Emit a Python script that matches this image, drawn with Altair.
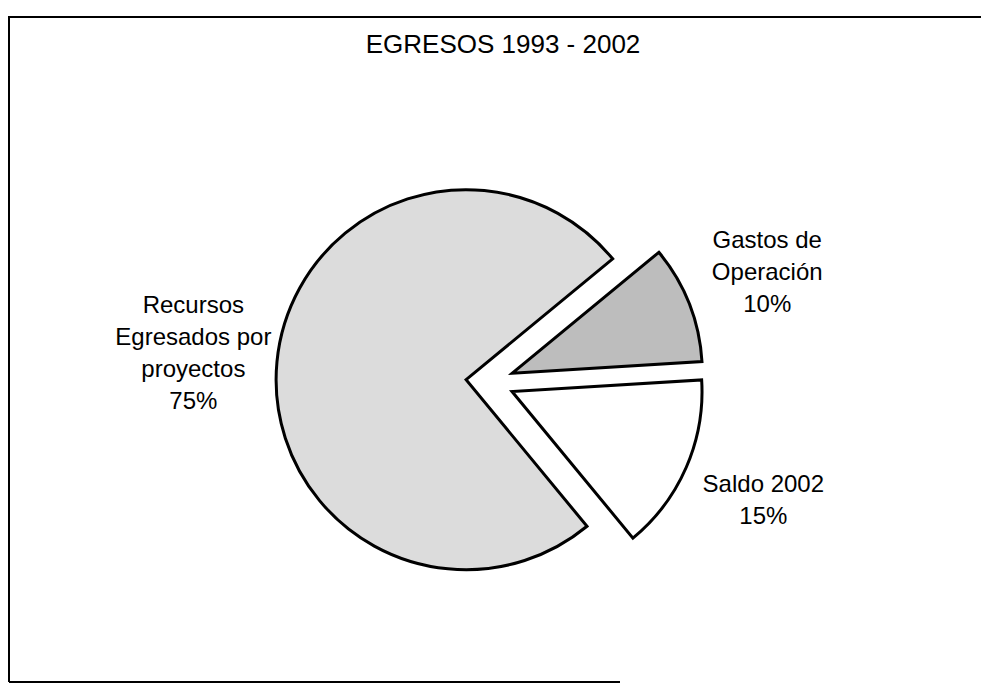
import math
import altair as alt
import pandas as pd

# ---- data ----
categories = ["Gastos de Operación", "Saldo 2002", "Recursos Egresados por proyectos"]
label_text = ["Gastos de\nOperación", "Saldo 2002", "Recursos\nEgresados por\nproyectos"]
values = [10, 15, 75]
title_text = "EGRESOS 1993 - 2002"

# ---- style ----
fills = ["#bdbdbd", "#ffffff", "#dcdcdc"]
START = 0.881          # start angle of first slice (radians, clockwise from 12 o'clock)
CX, CY = 482, 374      # pie centre in plot coordinates
R = 190                # pie radius
EXPLODE = 24           # slice explosion distance
LABEL_R = 298          # label distance from the centre
LINE_H = 32
W, H = 973, 676
FONT = "Liberation Sans"

df = pd.DataFrame({"cat": categories, "lbl": label_text, "value": values,
                   "order": list(range(len(values)))})

base = (
    alt.Chart(df)
    .transform_window(cum="sum(value)", sort=[alt.SortField("order")], frame=[None, 0])
    .transform_joinaggregate(total="sum(value)")
    .transform_calculate(
        t0="100*(datum.cum - datum.value)/datum.total",
        t1="100*datum.cum/datum.total",
        tm="100*(datum.cum - datum.value/2)/datum.total",
    )
    .transform_calculate(ang=f"{START} + 2*PI*datum.tm/100")
    .transform_calculate(
        ox=f"{CX} + {EXPLODE}*sin(datum.ang)",
        oy=f"{CY} - {EXPLODE}*cos(datum.ang)",
        txt="datum.lbl + '\\n' + datum.value + '%'",
    )
    .transform_calculate(
        lx=f"{CX} + {LABEL_R}*sin(datum.ang)",
        ly=f"{CY} - {LABEL_R}*cos(datum.ang) - (length(split(datum.txt, '\\n')) - 1)*{LINE_H}/2",
    )
)

theta_scale = alt.Scale(domain=[0, 100], range=[START, START + 2 * math.pi])

arcs = base.mark_arc(radius=R, stroke="black", strokeWidth=3, strokeJoin="miter").encode(
    theta=alt.Theta("t0:Q", scale=theta_scale, stack=None),
    theta2="t1:Q",
    x=alt.X("ox:Q", scale=None),
    y=alt.Y("oy:Q", scale=None),
    fill=alt.Fill("cat:N", scale=alt.Scale(domain=categories, range=fills), legend=None),
)

labels = base.mark_text(
    font=FONT, fontSize=24, lineBreak="\n", align="center", baseline="middle",
    lineHeight=LINE_H, color="black",
).encode(
    x=alt.X("lx:Q", scale=None),
    y=alt.Y("ly:Q", scale=None),
    text="txt:N",
)

one = pd.DataFrame({"t": [title_text]})
title = alt.Chart(one).mark_text(
    font=FONT, fontSize=26, align="center", baseline="middle", color="black"
).encode(text="t:N", x=alt.value(495), y=alt.value(37))

top_rule = alt.Chart(one).mark_rule(color="black", strokeWidth=2).encode(
    x=alt.value(0), x2=alt.value(W), y=alt.value(9))
left_rule = alt.Chart(one).mark_rule(color="black", strokeWidth=2).encode(
    x=alt.value(1), y=alt.value(9), y2=alt.value(674))
bottom_rule = alt.Chart(one).mark_rule(color="black", strokeWidth=2).encode(
    x=alt.value(1), x2=alt.value(612), y=alt.value(674))

chart = (
    alt.layer(top_rule, left_rule, bottom_rule, arcs, labels, title)
    .properties(width=W, height=H, autosize="none", padding=0, background="white")
    .configure_view(stroke=None)
)

chart.save("out.html", embed_options={"renderer": "svg", "actions": False})
